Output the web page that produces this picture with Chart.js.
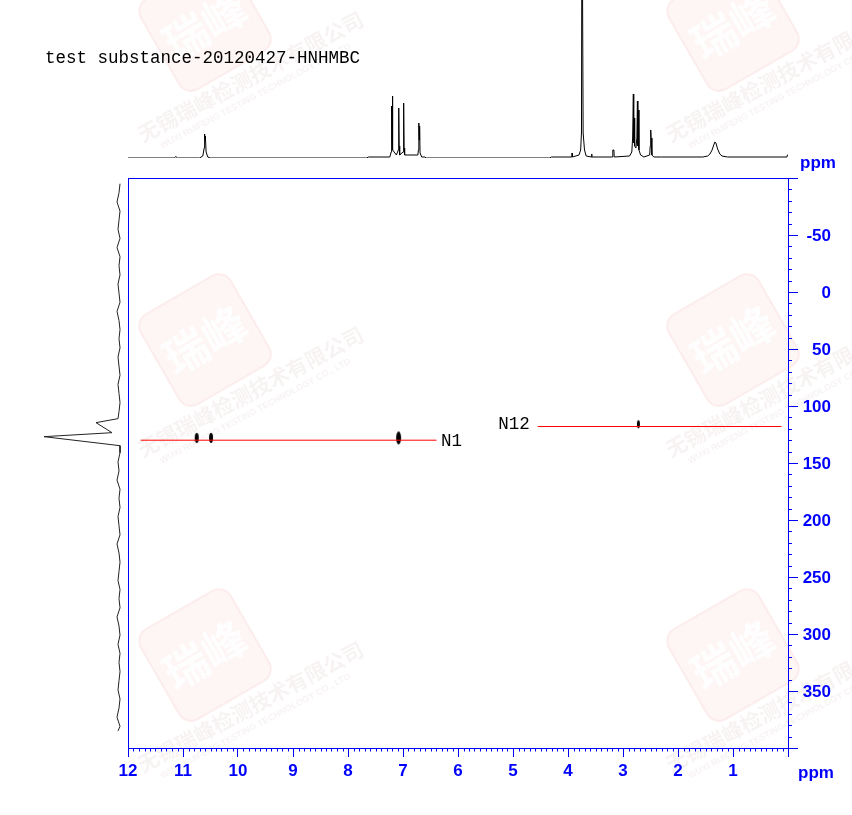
<!DOCTYPE html>
<html>
<head>
<meta charset="utf-8">
<script src="https://cdn.jsdelivr.net/npm/chart.js@4.4.0/dist/chart.umd.min.js"></script>
<style>
  html, body { margin: 0; padding: 0; background: #fff; }
  #wrap { position: relative; width: 852px; height: 815px; }
  #wrap canvas { position: absolute; left: 0; top: 0; }
</style>
</head>
<body>
<div id="wrap">
  <canvas id="main" width="852" height="815"></canvas>
  <canvas id="top" width="852" height="160"></canvas>
  <canvas id="side" width="128" height="815"></canvas>
</div>
<script>
const title = 'test substance-20120427-HNHMBC';

// 1H projection on top (ppm / intensity)
const topPpm = [12.00, 11.16, 11.13, 11.10, 10.70, 10.64, 10.615, 10.607, 10.600, 10.593, 10.58, 10.55, 10.50,
  7.66, 7.63, 7.24, 7.215, 7.207, 7.200, 7.193, 7.185, 7.12, 7.085, 7.077, 7.07, 7.06, 7.00, 6.988, 6.98, 6.97,
  6.73, 6.72, 6.712, 6.705, 6.698, 6.69, 6.66, 6.60, 6.58,
  4.34, 4.30, 3.93, 3.925, 3.92, 3.80, 3.77, 3.755, 3.745, 3.735, 3.725, 3.70, 3.67, 3.575, 3.57, 3.565,
  3.19, 3.185, 3.165, 3.16, 2.88, 2.84, 2.825, 2.812, 2.805, 2.795, 2.788, 2.765, 2.748, 2.738, 2.73, 2.722, 2.71,
  2.68, 2.62, 2.515, 2.505, 2.496, 2.488, 2.475, 2.44, 2.30,
  1.55, 1.46, 1.42, 1.38, 1.35, 1.33, 1.31, 1.28, 1.24, 1.20, 1.10, 0.02, 0.01, 0.00];
const topInt = [0, 0, 1.5, 0, 0, 2, 10, 24, 18, 22, 6, 1, 0,
  0, 1, 1, 6, 52, 20, 62, 8, 3, 8, 50, 12, 3, 6, 55, 10, 3,
  3, 8, 35, 18, 32, 5, 1, 1, 0,
  0, 1, 1, 5, 1, 3, 8, 25, 300, 300, 25, 8, 2, 1, 4, 1,
  1, 8, 8, 1, 2, 6, 20, 64, 15, 40, 12, 10, 20, 57, 12, 48, 8,
  3, 1, 3, 12, 28, 20, 3, 1, 1,
  1, 2, 4, 8, 13, 16, 15, 9, 4, 2, 1, 1, 3, 3];

// 15N projection on the left (ppm / intensity)
const sidePpm = [-95, -87, -79, -71, -63, -55, -47, -39, -31, -23, -15, -7, 1, 9, 17, 25, 33, 41, 49, 57, 65, 73, 81, 89, 97, 105,
  111.1, 114.6, 123.4, 126.9, 134.8,
  141, 149, 157, 165, 173, 181, 189, 197, 205, 213, 221, 229, 237, 245, 253, 261, 269, 277, 285, 293, 301, 309, 317, 325,
  333, 341, 349, 357, 365, 373, 381, 385];
const sideInt = [2, 3, 5, 2, 3, 4, 2, 5, 2, 3, 2, 4, 3, 2, 5, 3, 2, 3, 2, 4, 3, 2, 4, 3, 2, 3,
  4, 26, 10, 78, 2,
  2, 4, 3, 5, 2, 3, 2, 4, 3, 2, 5, 3, 2, 3, 4, 2, 3, 2, 5, 3, 2, 4, 2, 3, 2,
  3, 4, 2, 3, 5, 2, 4];

// HMBC cross peaks (1H ppm, 15N ppm)
const peakH = [10.75, 10.49, 7.08, 2.72];
const peakN = [128, 128, 128, 116];

// nitrogen assignment lines
const lineNames = ['N1', 'N12'];
const lineN = [130, 118];
const lineFrom = [11.77, 4.55];
const lineTo = [6.39, 0.12];
const labelH = [6.31, 5.27];
const labelN = [131, 116];

// tick labels
const xTickLabels = [12, 11, 10, 9, 8, 7, 6, 5, 4, 3, 2, 1];
const yTickLabels = [-50, 0, 50, 100, 150, 200, 250, 300, 350];

const blue = '#0000ff';
const axisFont = { family: 'Liberation Sans', size: 17, weight: 'bold' };
const monoFont = '17.5px "Liberation Mono"';

function ellipse(w, h) {
    const c = document.createElement('canvas');
    c.width = w + 2; c.height = h + 2;
    const g = c.getContext('2d');
    g.fillStyle = '#000';
    g.beginPath();
    g.ellipse(c.width / 2, c.height / 2, w / 2, h / 2, 0, 0, Math.PI * 2);
    g.fill();
    return c;
}
const peakStyles = [ellipse(4, 10), ellipse(4, 10), ellipse(5, 13), ellipse(3, 8)];

// faint company watermark behind everything
const watermark = {
    id: 'watermark',
    beforeDraw(chart) {
        const ctx = chart.ctx;
        const spots = [[205, 25], [733, 25], [205, 340], [733, 340], [205, 655], [733, 655]];
        ctx.save();
        spots.forEach(([cx, cy]) => {
            ctx.save();
            ctx.translate(cx, cy);
            ctx.rotate(-30 * Math.PI / 180);
            ctx.fillStyle = 'rgba(235, 110, 110, 0.07)';
            ctx.strokeStyle = 'rgba(225, 90, 90, 0.08)';
            ctx.lineWidth = 2;
            ctx.beginPath();
            ctx.roundRect(-52, -52, 104, 104, 14);
            ctx.fill();
            ctx.stroke();
            ctx.fillStyle = 'rgba(255, 255, 255, 0.9)';
            ctx.font = 'bold 44px "Noto Sans CJK SC"';
            ctx.textAlign = 'center';
            ctx.textBaseline = 'middle';
            ctx.fillText('瑞峰', 0, 0);
            ctx.restore();

            ctx.save();
            ctx.translate(cx - 62, cy + 118);
            ctx.rotate(-28 * Math.PI / 180);
            ctx.fillStyle = 'rgba(190, 140, 140, 0.10)';
            ctx.font = 'bold 21px "Noto Sans CJK SC"';
            ctx.textBaseline = 'alphabetic';
            ctx.fillText('无锡瑞峰检测技术有限公司', 0, 0);
            ctx.font = 'bold 9px "Liberation Sans"';
            ctx.fillText('WUXI RUIFENG TESTING TECHNOLOGY CO., LTD', 14, 14);
            ctx.restore();
        });
        ctx.restore();
    }
};

// box, minor ticks, y labels, title, annotations
const decorations = {
    id: 'decorations',
    afterDraw(chart) {
        const { ctx, chartArea: a, scales: { x, y } } = chart;
        ctx.save();
        ctx.strokeStyle = blue;
        ctx.lineWidth = 1;
        ctx.beginPath();
        for (let i = 1; i < 120; i++) {
            if (i % 10 === 0) continue;
            const px = Math.round(x.getPixelForValue(i / 10)) + 0.5;
            ctx.moveTo(px, a.bottom);
            ctx.lineTo(px, a.bottom + 3.5);
        }
        for (let v = -90; v < 400; v += 10) {
            if (v % 50 === 0) continue;
            const py = Math.round(y.getPixelForValue(v)) + 0.5;
            ctx.moveTo(a.right, py);
            ctx.lineTo(a.right + 4, py);
        }
        ctx.stroke();
        ctx.strokeRect(a.left + 0.5, a.top + 0.5, a.right - a.left, a.bottom - a.top);

        ctx.fillStyle = blue;
        ctx.font = 'bold 17px "Liberation Sans"';
        ctx.textBaseline = 'middle';
        ctx.textAlign = 'right';
        yTickLabels.forEach(v => {
            ctx.fillText(String(v), 831, y.getPixelForValue(v) + 1);
        });
        ctx.textAlign = 'left';
        ctx.fillText('ppm', 798, 773);
        ctx.fillText('ppm', 800, 163);

        ctx.fillStyle = '#000';
        ctx.font = monoFont;
        ctx.fillText(title, 45, 58);
        lineNames.forEach((n, i) => {
            ctx.fillText(n, x.getPixelForValue(labelH[i]), y.getPixelForValue(labelN[i]));
        });
        ctx.restore();
    }
};

new Chart(document.getElementById('main'), {
    type: 'scatter',
    data: {
        datasets: [
            ...lineNames.map((n, i) => ({
                label: n,
                data: [{ x: lineFrom[i], y: lineN[i] }, { x: lineTo[i], y: lineN[i] }],
                showLine: true,
                borderColor: '#ff0000',
                borderWidth: 1,
                pointRadius: 0
            })),
            {
                label: 'cross peaks',
                data: peakH.map((h, i) => ({ x: h, y: peakN[i] })),
                pointStyle: peakStyles,
                pointRadius: 4
            }
        ]
    },
    options: {
        responsive: false,
        animation: false,
        devicePixelRatio: 1,
        events: [],
        layout: { padding: { left: 128, top: 178, right: 0, bottom: 0 } },
        plugins: { legend: { display: false }, tooltip: { enabled: false } },
        scales: {
            x: {
                type: 'linear',
                position: 'bottom',
                reverse: true,
                min: 0,
                max: 12,
                afterFit: s => { s.height = 67; },
                grid: { drawOnChartArea: false, tickLength: 9, tickColor: blue, color: blue },
                border: { color: blue, width: 1 },
                ticks: {
                    stepSize: 1,
                    padding: 4,
                    maxRotation: 0,
                    autoSkip: false,
                    color: blue,
                    font: axisFont,
                    callback: v => xTickLabels.includes(v) ? String(v) : ''
                }
            },
            y: {
                type: 'linear',
                position: 'right',
                reverse: true,
                min: -100,
                max: 400,
                afterFit: s => { s.width = 64; },
                grid: { drawOnChartArea: false, tickLength: 10, tickColor: blue, color: blue },
                border: { color: blue, width: 1 },
                ticks: {
                    stepSize: 50,
                    autoSkip: false,
                    callback: () => ''
                }
            }
        }
    },
    plugins: [watermark, decorations]
});

// top 1D proton spectrum
new Chart(document.getElementById('top'), {
    type: 'line',
    data: {
        datasets: [{
            data: topPpm.map((p, i) => ({ x: p, y: topInt[i] })),
            borderColor: '#000',
            borderWidth: 1,
            pointRadius: 0,
            tension: 0
        }]
    },
    options: {
        responsive: false,
        animation: false,
        devicePixelRatio: 1,
        events: [],
        layout: { padding: { left: 128, right: 64, top: 0, bottom: 2 } },
        plugins: { legend: { display: false }, tooltip: { enabled: false } },
        scales: {
            x: { type: 'linear', reverse: true, min: 0, max: 12, display: false },
            y: { type: 'linear', min: 0, max: 158, display: false }
        }
    }
});

// left 1D nitrogen projection
new Chart(document.getElementById('side'), {
    type: 'line',
    data: {
        datasets: [{
            data: sidePpm.map((p, i) => ({ x: sideInt[i], y: p })),
            borderColor: '#222',
            borderWidth: 1,
            pointRadius: 0,
            tension: 0
        }]
    },
    options: {
        responsive: false,
        animation: false,
        devicePixelRatio: 1,
        events: [],
        layout: { padding: { left: 0, right: 6, top: 178, bottom: 67 } },
        plugins: { legend: { display: false }, tooltip: { enabled: false } },
        scales: {
            x: { type: 'linear', reverse: true, min: 0, max: 122, display: false },
            y: { type: 'linear', reverse: true, min: -100, max: 400, display: false }
        }
    }
});
</script>
</body>
</html>
